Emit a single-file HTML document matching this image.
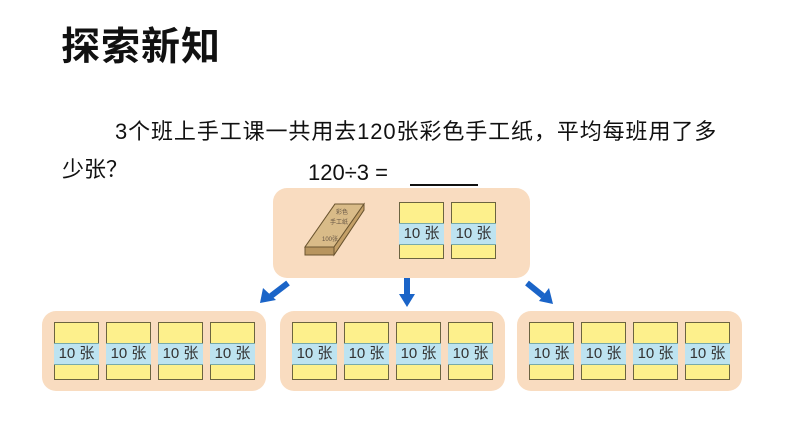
<!DOCTYPE html><html><head><meta charset="utf-8"><style>
body{margin:0;width:794px;height:447px;background:#fff;position:relative;overflow:hidden;font-family:"Liberation Sans","Noto Sans CJK SC",sans-serif}
.a{position:absolute}
.box{position:absolute;background:#f9dcc0;border-radius:14px}
.card{position:absolute;background:#fdf08c;border:1px solid #6b6440;box-sizing:border-box}
.band{position:absolute;left:-1px;right:-1px;background:#bde3f0;border-top:1px solid #7aa;border-bottom:1px solid #7aa;font-size:15px;color:#333;text-align:center;line-height:20px}
</style></head><body>
<div class="a" style="left:61px;top:16px;font-size:39px;font-weight:bold;color:#111;letter-spacing:1px">探索新知</div>
<div class="a" style="left:115px;top:114px;font-size:22px;color:#111;letter-spacing:0.9px;white-space:nowrap">3个班上手工课一共用去120张彩色手工纸<span style="font-family:'Noto Sans CJK SC',sans-serif">，</span>平均每班用了多</div>
<div class="a" style="left:62px;top:152px;font-size:22px;color:#111;font-family:'Noto Sans CJK SC',sans-serif">少张？</div>
<div class="a" style="left:308px;top:160px;font-size:22px;color:#111">120÷3 =</div>
<div class="a" style="left:410px;top:184px;width:68px;height:2px;background:#111"></div>
<div class="box" style="left:273px;top:188px;width:257px;height:90px"></div>
<svg class="a" style="left:300px;top:202px" width="90" height="60"><polygon points="5,45 35,2 64,2 64,8 34,53 5,53" fill="#b8955f" stroke="#6b5530"/><polygon points="5,45 35,2 64,2 34,45" fill="#d9bb88" stroke="#6b5530"/><polygon points="34,45 64,2 64,8 34,53" fill="#c4a068" stroke="#6b5530"/><text x="36" y="12" font-size="6" fill="#654">彩色</text><text x="30" y="22" font-size="6" fill="#654">手工纸</text><text x="22" y="39" font-size="6" fill="#654">100张</text></svg>
<div class="card" style="left:399px;top:202px;width:45px;height:57px"><div class="band" style="top:20px">10 张</div></div>
<div class="card" style="left:451px;top:202px;width:45px;height:57px"><div class="band" style="top:20px">10 张</div></div>
<svg class="a" style="left:0;top:0" width="794" height="447"><g stroke="#1a64c8" stroke-width="6" fill="#1a64c8"><line x1="288" y1="283" x2="271" y2="296"/><polygon points="260,303 263,288 276,300" stroke="none"/><line x1="407" y1="278" x2="407" y2="295"/><polygon points="399,294 415,294 407,307" stroke="none"/><line x1="527" y1="283" x2="543" y2="296"/><polygon points="553,304 539,301 549,288" stroke="none"/></g></svg>
<div class="box" style="left:42px;top:311px;width:224px;height:80px"></div>
<div class="box" style="left:280px;top:311px;width:225px;height:80px"></div>
<div class="box" style="left:517px;top:311px;width:225px;height:80px"></div>
<div id="c"></div>
<script>
var h='';[54,292,529].forEach(function(b){[0,52,104,156].forEach(function(o){h+='<div class="card" style="left:'+(b+o)+'px;top:322px;width:45px;height:58px"><div class="band" style="top:20px">10 张</div></div>';});});document.getElementById('c').innerHTML=h;
</script>
</body></html>
